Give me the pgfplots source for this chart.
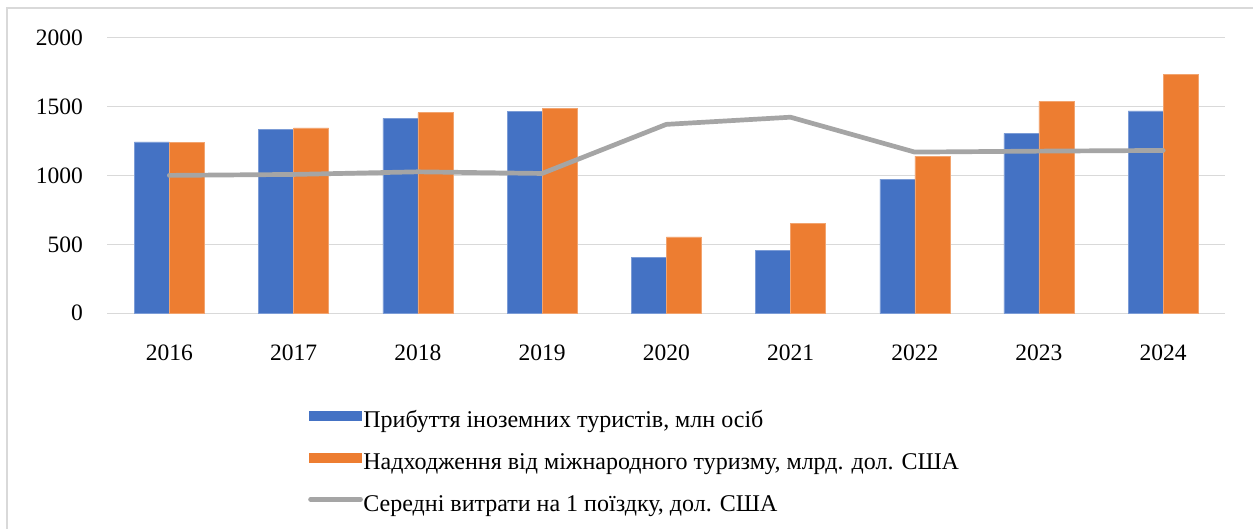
\documentclass[border=0pt]{standalone}
\usepackage{fontspec}
\setmainfont{Liberation Serif}
\usepackage{pgfplots}
\pgfplotsset{compat=1.18}
\definecolor{cBlue}{HTML}{4472C4}
\definecolor{cOrange}{HTML}{ED7D31}
\definecolor{cGray}{HTML}{A5A5A5}
\definecolor{cGrid}{HTML}{D9D9D9}
\begin{document}
\begin{tikzpicture}[x=1pt,y=1pt]
\useasboundingbox (0,0) rectangle (1253,528);
\fill[white] (0,0) rectangle (1253,528);
\draw[cGrid, line width=2pt] (7,-10) -- (7,520) -- (1270,520);
\begin{axis}[
  at={(107.2pt,214.7pt)}, anchor=south west,
  width=1118.2pt, height=275.8pt, scale only axis,
  xmin=-0.5, xmax=8.5, ymin=0, ymax=2000,
  ytick={0,500,1000,1500,2000},
  xtick={0,...,8},
  xticklabels={2016,2017,2018,2019,2020,2021,2022,2023,2024},
  axis line style={draw=none},
  major tick length=0pt,
  ymajorgrids, grid style={cGrid, line width=1.6pt},
  /pgf/number format/assume math mode=true,
  /pgf/number format/1000 sep={},
  tick label style={font=\fontsize{23.5}{28}\selectfont, inner sep=0pt},
  yticklabel style={anchor=east, xshift=-24.2pt},
  xticklabel style={anchor=north, yshift=-31.7pt},
  ybar=0pt, bar width=35pt,
]
\addplot[fill=cBlue, draw=cBlue!70!white, line width=0.5pt] coordinates {(0,1243) (1,1335) (2,1413) (3,1466) (4,406) (5,459) (6,973) (7,1304) (8,1468)};
\addplot[fill=cOrange, draw=cOrange!70!white, line width=0.5pt] coordinates {(0,1240) (1,1345) (2,1456) (3,1485) (4,555) (5,654) (6,1140) (7,1536) (8,1734)};
\end{axis}
\begin{axis}[
  at={(107.2pt,214.7pt)}, anchor=south west,
  width=1118.2pt, height=275.8pt, scale only axis,
  xmin=-0.5, xmax=8.5, ymin=0, ymax=2000,
  hide axis,
  legend cell align=left,
  legend style={at={(0.1796,-0.3517)}, anchor=north west, draw=none, fill=none,
    inner sep=0pt, row sep=20.8pt,
    font=\fontsize{24}{28}\selectfont,
    nodes={inner sep=0pt, text height=16pt, text depth=5pt},
    /tikz/every odd column/.append style={column sep=0.5pt}},
]
\addlegendimage{legend image code/.code={\fill[cBlue] (0pt,1.8pt) rectangle (52pt,10.8pt);}}
\addlegendentry{Прибуття іноземних туристів, млн осіб}
\addlegendimage{legend image code/.code={\fill[cOrange] (0pt,1.8pt) rectangle (52pt,10.8pt);}}
\addlegendentry{Надходження від міжнародного туризму, млрд. дол. США}
\addplot[cGray, line width=4.7pt, line cap=round, line join=round, mark=none,
  legend image code/.code={\draw[cGray, line width=4.7pt, line cap=round] (1pt,6.3pt) -- (51pt,6.3pt);}]
  coordinates {(0,1000) (1,1007) (2,1026) (3,1014) (4,1370) (5,1422) (6,1169) (7,1176) (8,1181)};
\addlegendentry{Середні витрати на 1 поїздку, дол. США}
\end{axis}
\end{tikzpicture}
\end{document}
